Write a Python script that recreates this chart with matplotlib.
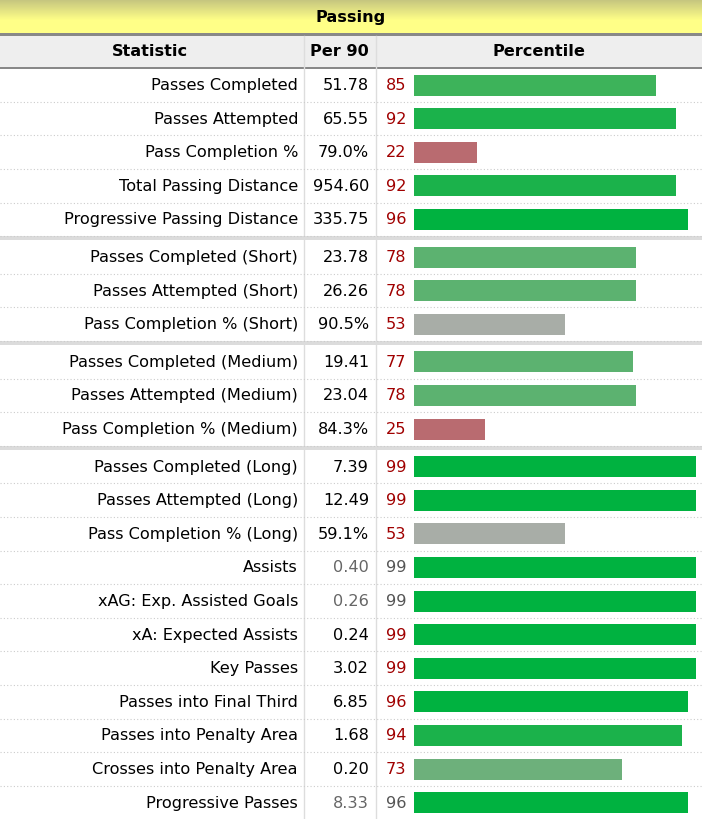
import numpy as np
import matplotlib
matplotlib.use("Agg")
import matplotlib.pyplot as plt

# ---------------- data ----------------
title = "Passing"
headers = ["Statistic", "Per 90", "Percentile"]
statistics = [
    "Passes Completed", "Passes Attempted", "Pass Completion %",
    "Total Passing Distance", "Progressive Passing Distance",
    "Passes Completed (Short)", "Passes Attempted (Short)", "Pass Completion % (Short)",
    "Passes Completed (Medium)", "Passes Attempted (Medium)", "Pass Completion % (Medium)",
    "Passes Completed (Long)", "Passes Attempted (Long)", "Pass Completion % (Long)",
    "Assists", "xAG: Exp. Assisted Goals", "xA: Expected Assists", "Key Passes",
    "Passes into Final Third", "Passes into Penalty Area", "Crosses into Penalty Area",
    "Progressive Passes",
]
per90 = ["51.78", "65.55", "79.0%", "954.60", "335.75",
         "23.78", "26.26", "90.5%",
         "19.41", "23.04", "84.3%",
         "7.39", "12.49", "59.1%",
         "0.40", "0.26", "0.24", "3.02", "6.85", "1.68", "0.20", "8.33"]
percentile = [85, 92, 22, 92, 96,
              78, 78, 53,
              77, 78, 25,
              99, 99, 53,
              99, 99, 99, 99, 96, 94, 73, 96]
muted_rows = ["Assists", "xAG: Exp. Assisted Goals", "Progressive Passes"]
group_breaks = [5, 8, 11]   # a thick separator precedes these row indices

# ---------------- style ----------------
W, H = 702, 819
FONT = "DejaVu Sans"
FS = 11.6
ROW_H = 33.6
SEP = 4.0
FIRST_C = 85.0


def bar_color(p):
    if p >= 95:
        return "#00b240"
    if p >= 90:
        return "#1bb24b"
    if p >= 80:
        return "#3db35a"
    if p >= 75:
        return "#5cb270"
    if p >= 60:
        return "#6db07b"
    if p >= 40:
        return "#a8ada7"
    return "#b96b70"


# row centres
centers = []
c = FIRST_C
for i in range(len(statistics)):
    if i > 0:
        c += ROW_H + (SEP if i in group_breaks else 0)
    centers.append(c)
centers = np.array(centers)

fig = plt.figure(figsize=(W / 100, H / 100), dpi=100)
ax = fig.add_axes([0, 0, 1, 1])
ax.set_xlim(0, W)
ax.set_ylim(H, 0)
ax.axis("off")

# title bar gradient
grad_top = np.array([0.78, 0.78, 0.50])
grad_mid = np.array([1.00, 1.00, 0.53])
ys = np.linspace(0, 1, 34)
cols = np.array([grad_top + (grad_mid - grad_top) * min(1, y / 0.6) for y in ys])
ax.imshow(cols[:, None, :], extent=[0, W, 34, 0], aspect="auto", zorder=0)
ax.fill_between([0, W], 33, 35.5, color="#888888", zorder=1, lw=0)
ax.text(W / 2, 17.5, title, ha="center", va="center", fontsize=FS, fontweight="bold",
        family=FONT, color="black")

# header
ax.fill_between([0, W], 35.5, 67, color="#eeeeee", zorder=0, lw=0)
ax.fill_between([0, W], 66.5, 68.5, color="#888888", zorder=1, lw=0)
ax.text(150, 52, headers[0], ha="center", va="center", fontsize=FS, fontweight="bold", family=FONT)
ax.text(339, 52, headers[1], ha="center", va="center", fontsize=FS, fontweight="bold", family=FONT)
ax.text(539, 52, headers[2], ha="center", va="center", fontsize=FS, fontweight="bold", family=FONT)

# vertical column lines
for x in (303.5, 375.5):
    ax.plot([x, x], [35.5, H], color="#dddddd", lw=1, zorder=1)

# rows
for i, (s, v, p, cy) in enumerate(zip(statistics, per90, percentile, centers)):
    muted = s in muted_rows
    vcol = "#666666" if muted else "black"
    pcol = "#555555" if muted else "#a00000"
    ax.text(298, cy + 0.5, s, ha="right", va="center", fontsize=FS, family=FONT, color="black")
    ax.text(369, cy + 0.5, v, ha="right", va="center", fontsize=FS, family=FONT, color=vcol)
    ax.text(386, cy + 0.5, str(p), ha="left", va="center", fontsize=FS, family=FONT, color=pcol)
    bottom = cy + ROW_H / 2
    if i + 1 < len(statistics):
        if (i + 1) in group_breaks:
            ax.fill_between([0, W], bottom, bottom + SEP, color="#dcdcdc", lw=0, zorder=1)
            ax.plot([0, W], [bottom, bottom], color="#cccccc", lw=0.8, ls=(0, (1, 2)), zorder=2)
        else:
            ax.plot([0, W], [bottom, bottom], color="#cccccc", lw=0.8, ls=(0, (1, 2)), zorder=2)

# bars in their own axes: x = percentile (0..100), y shared pixel rows
bax = fig.add_axes([414 / W, 0, 285 / W, 1])
bax.set_xlim(0, 100)
bax.set_ylim(H, 0)
bax.axis("off")
bax.patch.set_alpha(0)
bax.barh(centers, percentile, height=21, left=0,
         color=[bar_color(p) for p in percentile], zorder=3)

fig.savefig("out.png", dpi=100)
